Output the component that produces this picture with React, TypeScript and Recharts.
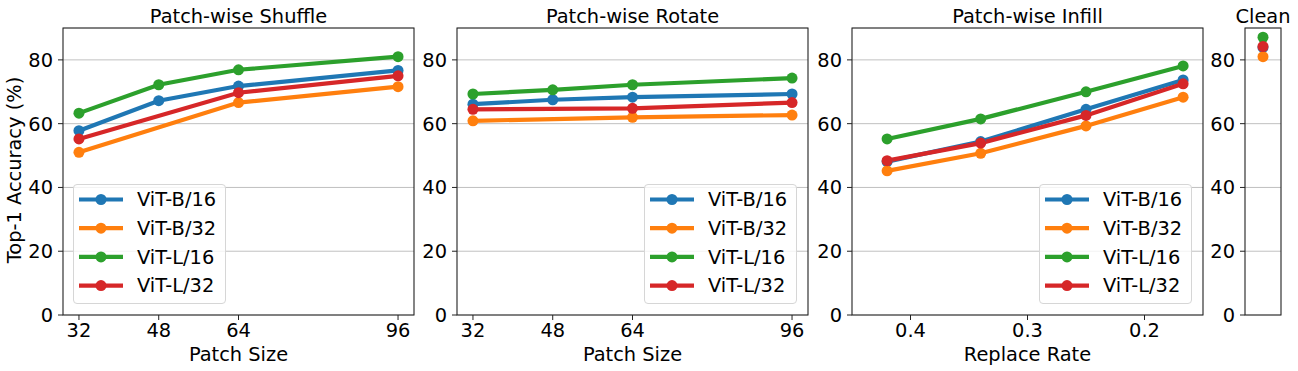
import { LineChart, Line, XAxis, YAxis, CartesianGrid, ReferenceArea } from 'recharts'

const FONT = "'DejaVu Sans', sans-serif"
const FS = 19.4

// series order + matplotlib tab colours
const models = ['ViT-B/16', 'ViT-B/32', 'ViT-L/16', 'ViT-L/32']
const colors = ['#1f77b4', '#ff7f0e', '#2ca02c', '#d62728']
const yTicks = [0, 20, 40, 60, 80]

// Patch-wise Shuffle / Rotate (x = patch size)
const patchSizes = [32, 48, 64, 96]
const shuffleB16 = [57.8, 67.2, 71.8, 76.7]
const shuffleB32 = [51.0, null, 66.6, 71.6]
const shuffleL16 = [63.3, 72.2, 76.9, 81.0]
const shuffleL32 = [55.2, null, 69.7, 75.0]

const rotateB16 = [66.1, 67.5, 68.3, 69.3]
const rotateB32 = [60.9, null, 62.0, 62.7]
const rotateL16 = [69.3, 70.6, 72.2, 74.3]
const rotateL32 = [64.5, null, 64.8, 66.6]

// Patch-wise Infill (x = replace rate, reversed axis)
const replaceRates = [0.42, 0.34, 0.25, 0.167]
const infillB16 = [48.1, 54.4, 64.5, 73.7]
const infillB32 = [45.2, 50.7, 59.3, 68.3]
const infillL16 = [55.2, 61.5, 70.0, 78.1]
const infillL32 = [48.4, 53.9, 62.6, 72.5]

// Clean accuracy, same model order
const cleanAcc = [83.9, 81.0, 87.1, 84.2]

type Row = { x: number; [k: string]: number | null }

const buildRows = (xs: number[], series: (number | null)[][]): Row[] =>
  xs.map((x, i) => {
    const row: Row = { x }
    series.forEach((s, j) => {
      row[`m${j}`] = s[i]
    })
    return row
  })

const shuffleData = buildRows(patchSizes, [shuffleB16, shuffleB32, shuffleL16, shuffleL32])
const rotateData = buildRows(patchSizes, [rotateB16, rotateB32, rotateL16, rotateL32])
const infillData = buildRows(replaceRates, [infillB16, infillB32, infillL16, infillL32])
const cleanData = buildRows([1], cleanAcc.map((v) => [v]))

const tickStyle = { fill: '#000', fontSize: FS, fontFamily: FONT }
const PLOT_TOP = 28
const H = 371

function LegendBox({ left }: { left: number }) {
  return (
    <div
      style={{
        position: 'absolute',
        left,
        top: 184,
        width: 153,
        height: 120,
        border: '1px solid #d6d6d6',
        borderRadius: 4,
        background: 'rgba(255,255,255,0.8)',
        boxSizing: 'border-box',
      }}
    >
      <svg width={153} height={120} style={{ position: 'absolute', left: -1, top: -1 }}>
        {models.map((m, i) => {
          const cy = 15.5 + i * 28.7
          return (
            <g key={m}>
              <line x1={6} x2={50} y1={cy} y2={cy} stroke={colors[i]} strokeWidth={4.2} />
              <circle cx={28} cy={cy} r={5.5} fill={colors[i]} />
              <text x={64} y={cy} dy="0.355em" fontSize={FS} fontFamily={FONT} fill="#000">
                {m}
              </text>
            </g>
          )
        })}
      </svg>
    </div>
  )
}

interface PanelProps {
  plotLeft: number
  plotWidth: number
  title?: string
  xLabel?: string
  data: Row[]
  xDomain: [number, number]
  xTicks?: number[]
  reversed?: boolean
  xFormat?: (v: number) => string
  hideX?: boolean
  lines?: boolean
}

function Panel({
  plotLeft,
  plotWidth,
  title,
  xLabel,
  data,
  xDomain,
  xTicks,
  reversed,
  xFormat,
  hideX,
  lines = true,
}: PanelProps) {
  const width = 60 + plotWidth + 6
  return (
    <div style={{ position: 'absolute', left: plotLeft - 60, top: 0, width, height: H }}>
      {title && (
        <div
          style={{
            position: 'absolute',
            left: 60 + plotWidth / 2 - 150,
            width: 300,
            top: 5,
            textAlign: 'center',
            fontFamily: FONT,
            fontSize: FS,
            lineHeight: 'normal',
            whiteSpace: 'nowrap',
            color: '#000',
          }}
        >
          {title}
        </div>
      )}
      <LineChart
        width={width}
        height={H}
        data={data}
        margin={{ top: PLOT_TOP, right: 6, bottom: 0, left: 10 }}
        style={{ overflow: 'visible' }}
      >
        <CartesianGrid vertical={false} stroke="#b0b0b0" strokeWidth={0.8} />
        <XAxis
          dataKey="x"
          type="number"
          domain={xDomain}
          ticks={xTicks}
          reversed={reversed}
          allowDataOverflow
          height={56}
          axisLine={false}
          tick={hideX ? false : tickStyle}
          tickLine={hideX ? false : { stroke: '#222' }}
          tickSize={5}
          tickMargin={3}
          tickFormatter={xFormat}
          label={
            xLabel
              ? {
                  value: xLabel,
                  position: 'insideBottom',
                  offset: 10,
                  fill: '#000',
                  fontSize: FS,
                  fontFamily: FONT,
                }
              : undefined
          }
        />
        <YAxis
          domain={[0, 90]}
          ticks={yTicks}
          width={50}
          axisLine={false}
          tick={tickStyle}
          tickLine={{ stroke: '#222' }}
          tickSize={5}
          tickMargin={5}
          allowDataOverflow
        />
        <ReferenceArea
          x1={xDomain[0]}
          x2={xDomain[1]}
          y1={0}
          y2={90}
          fill="none"
          stroke="#222"
          strokeWidth={1.1}
          ifOverflow="visible"
        />
        {models.map((m, i) => (
          <Line
            key={m}
            dataKey={`m${i}`}
            name={m}
            type="linear"
            stroke={colors[i]}
            strokeWidth={lines ? 4.2 : 0}
            connectNulls
            dot={{ r: 5.5, fill: colors[i], stroke: colors[i], strokeWidth: 0 }}
            isAnimationActive={false}
          />
        ))}
      </LineChart>
    </div>
  )
}

export default function App() {
  return (
    <div
      style={{
        position: 'absolute',
        left: 0,
        top: 0,
        width: 1298,
        height: H,
        background: '#fff',
        fontFamily: FONT,
      }}
    >
      <div
        style={{
          position: 'absolute',
          left: 14,
          top: 170,
          transform: 'translate(-50%, -50%) rotate(-90deg)',
          fontSize: FS,
          whiteSpace: 'nowrap',
          color: '#000',
        }}
      >
        Top-1 Accuracy (%)
      </div>

      <Panel
        plotLeft={63}
        plotWidth={351}
        title="Patch-wise Shuffle"
        xLabel="Patch Size"
        data={shuffleData}
        xDomain={[28.8, 99.2]}
        xTicks={patchSizes}
      />
      <Panel
        plotLeft={457}
        plotWidth={351}
        title="Patch-wise Rotate"
        xLabel="Patch Size"
        data={rotateData}
        xDomain={[28.8, 99.2]}
        xTicks={patchSizes}
      />
      <Panel
        plotLeft={852}
        plotWidth={351}
        title="Patch-wise Infill"
        xLabel="Replace Rate"
        data={infillData}
        xDomain={[0.15, 0.45]}
        xTicks={[0.2, 0.3, 0.4]}
        reversed
        xFormat={(v: number) => v.toFixed(1)}
      />
      <Panel
        plotLeft={1245}
        plotWidth={36}
        title="Clean"
        data={cleanData}
        xDomain={[0, 2]}
        hideX
        lines={false}
      />

      <LegendBox left={73} />
      <LegendBox left={644} />
      <LegendBox left={1039} />
    </div>
  )
}
